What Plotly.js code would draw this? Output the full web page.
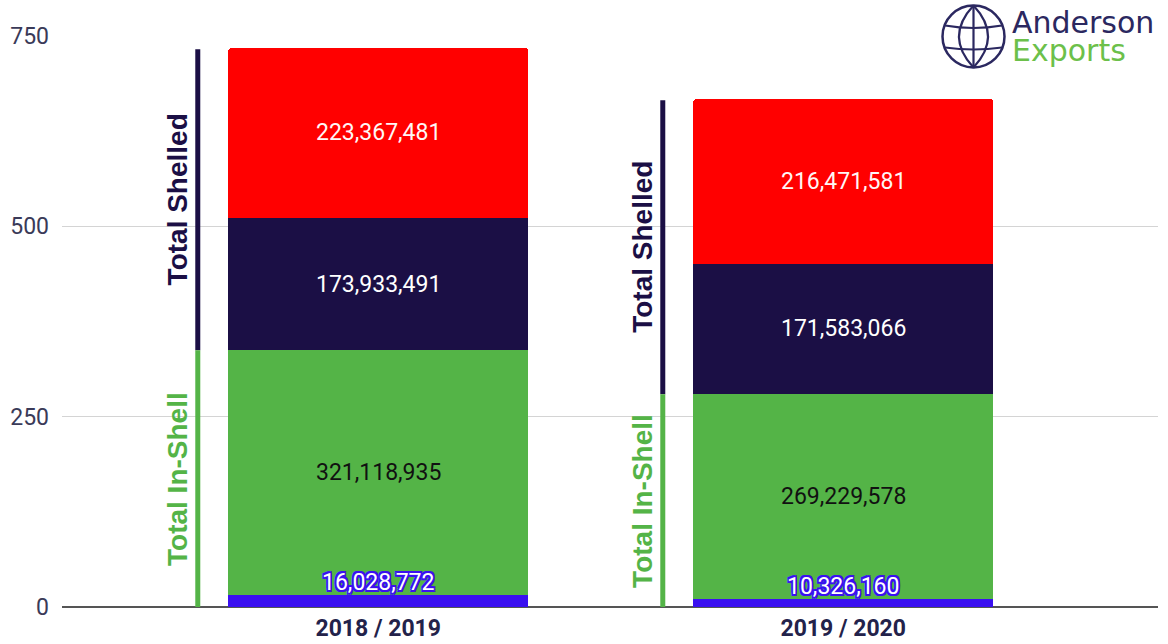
<!DOCTYPE html>
<html>
<head>
<meta charset="utf-8">
<script src="https://cdn.plot.ly/plotly-3.0.1.min.js"></script>
<style>html,body{margin:0;padding:0;background:#fff;}#chart{width:1168px;height:644px;}</style>
</head>
<body>
<div id="chart"></div>
<script>
// ---- data ----
const seasons = ["2018 / 2019", "2019 / 2020"];
const inShellSmall = [16028772, 10326160];   // blue
const inShell      = [321118935, 269229578]; // green
const shelledA     = [173933491, 171583066]; // navy
const shelledB     = [223367481, 216471581]; // red
const yTicks = [0, 250, 500, 750];

// ---- styling ----
const C_BLUE = "#3a10f0", C_GREEN = "#54b447", C_NAVY = "#1b0f45", C_RED = "#ff0000";
const BAR_W = 0.645;
const M = v => v / 1e6;
const fmt = v => v.toLocaleString("en-US");

function barTrace(name, vals, color) {
  return {
    type: "bar", name: name, x: seasons, y: vals.map(M), width: BAR_W,
    marker: {color: color, line: {width: 0}}, hoverinfo: "skip", showlegend: false
  };
}
const traces = [
  barTrace("In-Shell (small)", inShellSmall, C_BLUE),
  barTrace("In-Shell", inShell, C_GREEN),
  barTrace("Shelled (A)", shelledA, C_NAVY),
  barTrace("Shelled (B)", shelledB, C_RED)
];

const annotations = [];
const shapes = [];
const labelFont = {family: "Roboto, sans-serif", size: 23};
const LINE_OFF = -0.388, TEXT_OFF = -0.432;

seasons.forEach((s, i) => {
  const b = M(inShellSmall[i]);
  const g = M(inShell[i]);
  const n = M(shelledA[i]);
  const r = M(shelledB[i]);
  const gTop = b + g, nTop = gTop + n, total = nTop + r;
  // segment labels
  annotations.push({x: i, y: gTop + n + r / 2, xref: "x", yref: "y", text: fmt(shelledB[i]), showarrow: false,
    font: Object.assign({}, labelFont, {color: "#fff6f6"})});
  annotations.push({x: i, y: gTop + n / 2, xref: "x", yref: "y", text: fmt(shelledA[i]), showarrow: false,
    font: Object.assign({}, labelFont, {color: "#ffffff"})});
  annotations.push({x: i, y: b + g / 2, xref: "x", yref: "y", text: fmt(inShell[i]), showarrow: false,
    font: Object.assign({}, labelFont, {color: "#111111"})});
  const sc = C_BLUE, sh = "1.6px";
  annotations.push({x: i, y: b, xref: "x", yref: "y", yanchor: "bottom", yshift: -3, text: fmt(inShellSmall[i]), showarrow: false,
    font: Object.assign({}, labelFont, {color: "#ffffff",
      shadow: `-${sh} -${sh} 0 ${sc}, ${sh} -${sh} 0 ${sc}, -${sh} ${sh} 0 ${sc}, ${sh} ${sh} 0 ${sc}, 0 ${sh} 0 ${sc}, 0 -${sh} 0 ${sc}, ${sh} 0 0 ${sc}, -${sh} 0 0 ${sc}`})});
  // bracket lines
  shapes.push({type: "line", xref: "x", yref: "y", x0: i + LINE_OFF, x1: i + LINE_OFF, y0: gTop, y1: total - 2,
    line: {color: C_NAVY, width: 5}});
  shapes.push({type: "line", xref: "x", yref: "y", x0: i + LINE_OFF, x1: i + LINE_OFF, y0: 0, y1: gTop,
    line: {color: C_GREEN, width: 5}});
  annotations.push({x: i + TEXT_OFF, y: (gTop + total) / 2, xref: "x", yref: "y", text: "Total Shelled", textangle: -90,
    showarrow: false, font: {family: "Liberation Sans, Arial, sans-serif", size: 28, weight: "bold", color: C_NAVY}});
  annotations.push({x: i + TEXT_OFF, y: gTop / 2, xref: "x", yref: "y", text: "Total In-Shell", textangle: -90,
    showarrow: false, font: {family: "Liberation Sans, Arial, sans-serif", size: 28, weight: "bold", color: C_GREEN}});
  if (i === 0) {
    shapes.push({type: "rect", xref: "x", yref: "y", layer: "below", x0: i + LINE_OFF + 0.006, x1: i - BAR_W / 2,
      y0: 0.5, y1: total, fillcolor: "#ffffff", line: {width: 0}});
  }
});

// ---- logo (pixel -> paper) ----
const PL = 62, PR = 1158, PT = 36, PB = 607;
const px = x => (x - PL) / (PR - PL);
const py = y => (PB - y) / (PB - PT);
const P = (x, y) => px(x).toFixed(5) + "," + py(y).toFixed(5);
const LOGO_NAVY = "#2b2860", LOGO_GREEN = "#6cc04a";
shapes.push({type: "rect", xref: "paper", yref: "paper", layer: "above", x0: px(938), x1: px(1168), y0: py(76), y1: py(0),
  fillcolor: "#ffffff", line: {width: 0}});
const cx = 973.5, cy = 36.5, R = 31;
shapes.push({type: "circle", xref: "paper", yref: "paper", layer: "above", x0: px(cx - R), x1: px(cx + R), y0: py(cy + R), y1: py(cy - R),
  line: {color: LOGO_NAVY, width: 2.5}, fillcolor: "rgba(0,0,0,0)"});
const gl = {color: LOGO_NAVY, width: 2.2};
shapes.push({type: "path", xref: "paper", yref: "paper", layer: "above", line: gl,
  path: `M${P(cx, cy - R)} L${P(cx, cy + R)}`});
shapes.push({type: "path", xref: "paper", yref: "paper", layer: "above", line: gl,
  path: `M${P(cx, cy - R)} Q${P(cx - 29, cy)} ${P(cx, cy + R)}`});
shapes.push({type: "path", xref: "paper", yref: "paper", layer: "above", line: gl,
  path: `M${P(cx, cy - R)} Q${P(cx + 29, cy)} ${P(cx, cy + R)}`});
shapes.push({type: "path", xref: "paper", yref: "paper", layer: "above", line: gl,
  path: `M${P(cx - 28.5, cy - 11)} Q${P(cx, cy - 6)} ${P(cx + 28.5, cy - 11)}`});
shapes.push({type: "path", xref: "paper", yref: "paper", layer: "above", line: gl,
  path: `M${P(cx - 28.5, cy + 11)} Q${P(cx, cy + 15)} ${P(cx + 28.5, cy + 11)}`});
annotations.push({xref: "paper", yref: "paper", x: px(1010), y: py(23), xanchor: "left", yanchor: "middle", showarrow: false,
  text: "Anderson", font: {family: "DejaVu Sans, sans-serif", size: 30, color: LOGO_NAVY}});
annotations.push({xref: "paper", yref: "paper", x: px(1010), y: py(50), xanchor: "left", yanchor: "middle", showarrow: false,
  text: "Exports", font: {family: "DejaVu Sans, sans-serif", size: 30, color: LOGO_GREEN}});

const layout = {
  width: 1168, height: 644,
  margin: {l: PL, r: 1168 - PR, t: PT, b: 644 - PB, pad: 0},
  paper_bgcolor: "#ffffff", plot_bgcolor: "#ffffff",
  barmode: "stack", barcornerradius: 4,
  showlegend: false,
  xaxis: {type: "category", range: [-0.68, 1.677], showgrid: false, zeroline: false, showline: false,
    ticks: "", ticklabelstandoff: 5,
    tickfont: {family: "Roboto, Arial, sans-serif", size: 23, weight: "bold", color: "#23224a"}},
  yaxis: {range: [0, 750], tickvals: yTicks, ticktext: yTicks.map(String), showgrid: true, gridcolor: "#d4d4d4", gridwidth: 1.5,
    zeroline: true, zerolinecolor: "#555555", zerolinewidth: 2, showline: false, ticks: "", ticklabelstandoff: 12,
    tickfont: {family: "Roboto, Arial, sans-serif", size: 23, color: "#3a3a58"}},
  shapes: shapes,
  annotations: annotations
};

Plotly.newPlot("chart", traces, layout, {staticPlot: true, displayModeBar: false});
</script>
</body>
</html>
